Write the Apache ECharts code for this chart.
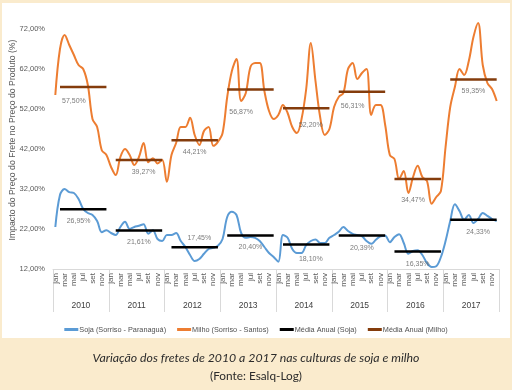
<!DOCTYPE html>
<html><head><meta charset="utf-8">
<script src="https://cdn.jsdelivr.net/npm/echarts@6/dist/echarts.min.js"></script>
<style>html,body{margin:0;padding:0;background:#FAEBCD;}#c{width:512px;height:390px;}</style>
</head><body><div id="c"></div>
<script>
const monthNames = ['jan','fev','mar','abr','mai','jun','jul','ago','set','out','nov','dez'];
const years = ['2010','2011','2012','2013','2014','2015','2016','2017'];
const yTicks = {min: 12, max: 72, interval: 10};

const sojaValues = [
  22.5,30.5,32.0,31.2,31.0,29.5,27.0,26.0,25.5,24.0,21.2,21.7,
  21.0,20.5,22.5,23.8,22.0,22.5,22.8,23.2,20.8,21.7,19.5,19.0,
  20.5,20.5,21.0,19.0,17.5,15.5,14.0,14.5,15.8,17.0,17.3,17.8,
  19.5,25.0,26.3,25.5,21.0,19.8,20.0,19.8,19.0,17.5,16.0,15.0,
  13.8,20.5,19.8,17.0,16.0,16.0,18.0,19.0,19.4,18.5,18.5,19.8,
  20.5,21.3,22.5,21.5,20.8,20.5,20.2,19.0,18.3,19.3,20.2,20.3,
  18.7,20.0,20.7,18.5,15.8,16.5,16.7,15.5,13.5,12.5,12.7,15.0,
  19.0,24.0,28.2,26.5,24.3,25.5,23.5,24.5,26.0,25.3,24.5,24.0
];
const milhoValues = [
  55.5,67.0,70.5,68.0,65.5,63.0,62.0,58.0,49.5,47.5,41.7,40.5,
  37.5,35.5,40.0,42.0,40.5,38.0,40.0,43.5,38.7,39.7,38.4,39.3,
  33.8,40.5,43.5,47.5,47.5,49.8,45.5,43.0,46.5,47.5,42.8,43.8,
  46.0,55.0,61.5,64.5,54.0,56.0,62.5,63.5,63.5,56.5,51.5,49.5,
  50.5,53.0,51.0,47.5,46.0,49.5,57.0,68.5,59.0,50.0,45.5,47.0,
  52.5,55.0,56.0,62.0,63.5,59.5,61.0,62.0,50.5,53.0,53.0,48.0,
  40.5,39.5,34.5,36.5,31.0,35.0,37.8,35.0,34.0,28.3,30.0,31.5,
  42.5,52.5,57.5,62.0,60.5,64.0,70.0,73.5,63.0,58.5,57.0,54.0
];
const sojaAvg = [26.95,21.61,17.45,20.40,18.10,20.39,16.35,24.33];
const milhoAvg = [57.50,39.27,44.21,56.87,52.20,56.31,34.47,59.35];

// label placement (category position within chart, pixel offset below line)
const milhoLabelPos = [3.6,18.85,29.8,40.4,55.0,63.8,77.35,90.0];
const milhoLabelDy = [14,12,12,23,17,14,21,11];
const sojaLabelPos = [5.2,18.0,30.5,41.9,55.4,65.95,78.0,90.9];
const sojaLabelDy = [12,12,-9,12,14,13,12,12];

const monthCats = [];
years.forEach(y => monthNames.forEach(m => monthCats.push(m + ' ' + y)));

function avgSeriesData(avg) {
  const out = [];
  avg.forEach(v => { for (let m = 0; m < 12; m++) out.push(m === 0 ? null : v); });
  return out;
}
const fmt = v => v.toFixed(2).replace('.', ',') + '%';
const narrow = '"Liberation Sans Narrow", "Liberation Sans", Arial, sans-serif';
const gray = '#595959';

function labelSeries(avg, pos, dy) {
  return {
    type: 'scatter', symbolSize: 0, silent: true, z: 5, clip: false,
    data: avg.map((v, i) => ({value: [pos[i], v], label: {offset: [0, dy[i]]}})),
    label: {show: true, position: 'inside', color: gray, fontSize: 7, fontFamily: narrow,
      formatter: p => fmt(p.value[1])}
  };
}

const chart = echarts.init(document.getElementById('c'), null, {renderer: 'canvas'});
chart.setOption({
  backgroundColor: '#FAEBCD',
  animation: false,
  graphic: [
    {type: 'rect', shape: {x: 2, y: 3, width: 508, height: 335}, style: {fill: '#ffffff'}, z: -10},
    {type: 'text', x: 13, y: 140, rotation: Math.PI / 2,
      style: {text: 'Impacto do Preço do Frete no Preço do Produto (%)', align: 'center', verticalAlign: 'middle',
        font: '8.7px "Liberation Sans", Arial, sans-serif', fill: gray}},
    {type: 'text', left: 'center', top: 352, style: {text: 'Variação dos fretes de 2010 a 2017 nas culturas de soja e milho',
      font: 'italic 12.3px Lato, "Open Sans", sans-serif', fill: '#2b2b2b'}},
    {type: 'text', left: 'center', top: 370, style: {text: '(Fonte: Esalq-Log)',
      font: '11.8px Lato, "Open Sans", sans-serif', fill: '#2b2b2b'}}
  ],
  grid: {left: 53, right: 13, top: 29, bottom: 121, containLabel: false, outerBoundsMode: 'none'},
  legend: {
    top: 321, left: 'center', itemWidth: 14, itemHeight: 3, itemGap: 11, icon: 'rect',
    textStyle: {fontSize: 7.3, color: '#505050', fontFamily: narrow, padding: [0, 0, 0, -4]},
    data: ['Soja (Sorriso - Paranaguá)', 'Milho (Sorriso - Santos)', 'Média Anual (Soja)', 'Média Anual (Milho)']
  },
  xAxis: [
    {type: 'category', data: monthCats, boundaryGap: true,
      axisLine: {show: true, lineStyle: {color: '#D9D9D9', width: 1}},
      axisTick: {show: false},
      axisLabel: {interval: 1, rotate: 90, fontSize: 8, color: gray, fontFamily: narrow, margin: 4,
        formatter: v => v.split(' ')[0]},
      splitLine: {show: false}},
    {type: 'category', data: years, position: 'bottom', offset: 0, boundaryGap: true,
      axisLine: {show: false},
      axisTick: {show: true, interval: 0, length: 43, lineStyle: {color: '#D9D9D9'}},
      axisLabel: {interval: 0, fontSize: 8.5, color: '#404040', fontFamily: narrow, margin: 32},
      splitLine: {show: false}}
  ],
  yAxis: {
    type: 'value', min: yTicks.min, max: yTicks.max, interval: yTicks.interval,
    axisLine: {show: false}, axisTick: {show: false}, splitLine: {show: false},
    axisLabel: {formatter: fmt, fontSize: 7.5, color: gray, fontFamily: narrow, margin: 8}
  },
  series: [
    {name: 'Soja (Sorriso - Paranaguá)', type: 'line', data: sojaValues, smooth: 0.35, symbol: 'none', clip: false,
      lineStyle: {color: '#5B9BD5', width: 2}, itemStyle: {color: '#5B9BD5'}, z: 2},
    {name: 'Milho (Sorriso - Santos)', type: 'line', data: milhoValues, smooth: 0.35, symbol: 'none', clip: false,
      lineStyle: {color: '#ED7D31', width: 2}, itemStyle: {color: '#ED7D31'}, z: 2},
    {name: 'Média Anual (Soja)', type: 'line', data: avgSeriesData(sojaAvg), symbol: 'none', connectNulls: false,
      lineStyle: {color: '#000000', width: 2.5}, itemStyle: {color: '#000000'}, z: 3},
    {name: 'Média Anual (Milho)', type: 'line', data: avgSeriesData(milhoAvg), symbol: 'none', connectNulls: false,
      lineStyle: {color: '#843C0C', width: 2.5}, itemStyle: {color: '#843C0C'}, z: 3},
    labelSeries(milhoAvg, milhoLabelPos, milhoLabelDy),
    labelSeries(sojaAvg, sojaLabelPos, sojaLabelDy)
  ]
});
</script></body></html>
